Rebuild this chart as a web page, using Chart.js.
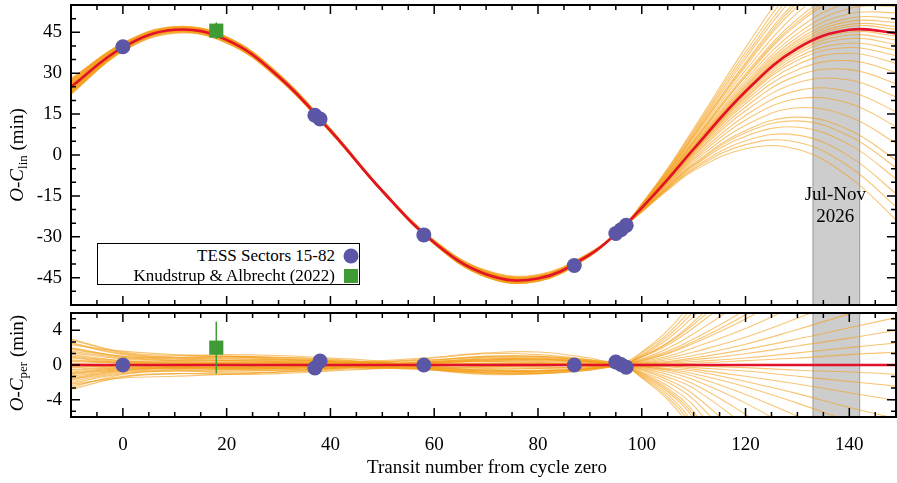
<!DOCTYPE html>
<html>
<head>
<meta charset="utf-8">
<script src="https://cdn.jsdelivr.net/npm/chart.js@4.4.0/dist/chart.umd.min.js"></script>
<style>
body{margin:0;background:#fff;width:897px;height:483px;overflow:hidden;position:relative;font-family:"Liberation Serif","Times New Roman",serif;color:#000}
.panel{position:absolute;left:0;width:897px}
#topBox{top:0;height:310px}
#botBox{top:308px;height:175px}
.ylab{position:absolute;font-size:19px;white-space:nowrap;transform:translate(-50%,-50%) rotate(-90deg)}
.ylab sub{font-size:13px;vertical-align:-4px;line-height:0}
#xlab{position:absolute;left:487px;top:467px;font-size:19px;white-space:nowrap;transform:translate(-50%,-50%)}
#legend{position:absolute;left:97px;top:243px;width:263px;height:42px;border:1px solid #000;box-sizing:border-box;background:#fff;font-size:17px}
#legend .txt{position:absolute;right:24px;white-space:nowrap;transform:translateY(-50%)}
#legend .mk{position:absolute;left:253px;transform:translate(-50%,-50%)}
.circ{width:15px;height:15px;border-radius:50%;background:#5b57a6}
.sq{width:14px;height:14px;background:#3f9b35}
</style>
</head>
<body>
<div class="panel" id="topBox"><canvas id="topChart"></canvas></div>
<div class="panel" id="botBox"><canvas id="botChart"></canvas></div>
<div class="ylab" style="left:17px;top:155px"><i>O</i>-<i>C</i><sub>lin</sub> (min)</div>
<div class="ylab" style="left:17px;top:363px"><i>O</i>-<i>C</i><sub>per</sub> (min)</div>
<div id="xlab">Transit number from cycle zero</div>
<div id="legend">
  <div class="txt" style="top:12px">TESS Sectors 15-82</div><div class="mk circ" style="top:12px"></div>
  <div class="txt" style="top:32px">Knudstrup &amp; Albrecht (2022)</div><div class="mk sq" style="top:32px"></div>
</div>
<script>
// transit number grid for the model curves
const gridN = [-10, 0, 10, 20, 30, 40, 50, 60, 70, 80, 90, 96, 100, 105, 110, 120, 130, 140, 150];
// best-fit model, O-C relative to linear ephemeris (min)
const fitLin = [25.0, 39.5, 45.9, 42.2, 28.8, 8.9, -13.2, -32.1, -43.7, -45.3, -36.5, -27.2, -19.4, -8.9, 2.2, 23.3, 39.1, 45.9, 44.4];
// posterior draws, offset from best fit (min), same grid
const sampleDev = [
  [2.9,1.4,0.9,1.0,0.8,0.5,0.0,-0.6,-1.1,-1.0,-0.5,0.1,1.5,4.0,7.5,16.0,27.0,39.0,51.0],
  [-2.6,-1.1,-0.7,-0.9,-0.8,-0.6,0.3,0.8,1.3,1.2,0.6,-0.1,1.4,3.6,6.8,14.4,24.3,35.1,45.9],
  [1.8,0.9,0.6,0.7,0.6,0.4,0.2,-0.3,-0.5,-0.4,-0.2,0.1,1.2,3.3,6.2,13.1,22.1,32.0,41.8],
  [-1.6,-0.7,-0.4,-0.5,-0.5,-0.4,-0.1,0.3,0.6,0.6,0.3,0.0,1.1,3.0,5.6,12.0,20.3,29.3,38.3],
  [0.8,0.3,0.2,0.3,0.3,0.2,0.1,-0.4,-0.7,-0.7,-0.4,0.0,1.0,2.6,5.0,10.6,17.8,25.7,33.7],
  [-0.9,-0.4,-0.2,-0.2,-0.1,0.0,0.5,0.9,1.4,1.5,0.8,0.1,0.9,2.3,4.3,9.1,15.4,22.2,29.1],
  [2.3,1.6,1.2,1.0,0.7,0.4,0.2,-0.2,-0.2,-0.1,0.0,0.0,0.7,1.9,3.6,7.7,13.0,18.7,24.5],
  [-2.2,-1.5,-1.3,-1.1,-0.8,-0.4,-0.2,0.3,0.4,0.3,0.1,0.0,0.6,1.6,3.0,6.4,10.8,15.6,20.4],
  [1.2,0.5,0.2,0.1,0.0,-0.1,-0.1,0.2,0.5,0.6,0.4,0.1,0.5,1.3,2.5,5.3,8.9,12.9,16.8],
  [-1.1,-0.5,-0.3,-0.3,-0.3,-0.2,-0.3,-0.3,-0.6,-0.7,-0.4,-0.1,0.4,1.0,2.0,4.2,7.0,10.1,13.3],
  [0.4,0.2,0.1,0.2,0.2,0.2,0.2,0.1,0.1,0.1,0.1,0.0,0.3,0.8,1.5,3.2,5.4,7.8,10.2],
  [-0.3,-0.1,0.0,-0.1,-0.1,-0.1,-0.1,0.0,-0.1,-0.1,0.0,0.0,0.2,0.6,1.1,2.4,4.1,5.9,7.7],
  [2.0,1.0,0.8,0.9,0.9,0.7,0.2,-0.5,-0.9,-0.9,-0.5,0.0,0.2,0.4,0.8,1.8,3.0,4.3,5.6],
  [-1.9,-0.9,-0.6,-0.7,-0.6,-0.4,0.3,0.6,1.0,1.0,0.5,0.0,0.1,0.3,0.6,1.3,2.2,3.1,4.1],
  [1.4,0.7,0.5,0.5,0.4,0.3,0.2,0.0,-0.1,-0.1,0.0,0.0,0.1,0.2,0.4,0.8,1.4,2.0,2.6],
  [-1.3,-0.6,-0.3,-0.3,-0.2,-0.1,-0.1,0.0,0.1,0.2,0.1,0.0,0.0,0.1,0.2,0.5,0.8,1.2,1.5],
  [0.6,0.2,0.0,-0.1,-0.1,-0.1,0.1,0.3,0.6,0.7,0.4,0.1,0.9,2.5,4.7,9.9,16.7,24.2,31.6],
  [-0.6,-0.3,-0.3,-0.4,-0.4,-0.3,-0.3,0.2,0.4,0.4,0.2,0.0,0.5,1.4,2.7,5.8,9.7,14.0,18.4],
  [3.0,1.5,1.1,1.2,1.1,0.8,0.4,-0.5,-0.9,-0.8,-0.4,0.0,-1.5,-4.0,-8.0,-21.0,-37.0,-54.0,-70.0],
  [-2.8,-1.4,-1.0,-1.1,-1.0,-0.7,-0.3,0.5,0.9,0.9,0.5,0.1,-1.4,-3.7,-7.4,-19.5,-34.4,-50.2,-65.1],
  [1.6,0.8,0.5,0.5,0.4,0.3,-0.3,-0.6,-1.0,-1.0,-0.6,-0.1,-1.3,-3.4,-6.9,-18.1,-31.8,-46.4,-60.2],
  [-1.7,-0.8,-0.5,-0.5,-0.4,-0.3,0.1,0.4,0.7,0.7,0.4,0.0,-1.2,-3.1,-6.2,-16.4,-28.9,-42.1,-54.6],
  [1.0,0.5,0.4,0.5,0.5,0.4,0.2,-0.2,-0.4,-0.4,-0.2,0.0,-1.0,-2.7,-5.4,-14.3,-25.2,-36.7,-47.6],
  [-0.8,-0.3,-0.1,0.0,0.1,0.1,0.4,0.6,1.0,1.0,0.6,0.1,-0.9,-2.4,-4.7,-12.4,-21.8,-31.9,-41.3],
  [2.5,1.2,0.8,0.8,0.7,0.5,0.3,-0.3,-0.6,-0.6,-0.3,0.0,-0.8,-2.0,-4.0,-10.5,-18.5,-27.0,-35.0],
  [-2.4,-1.3,-1.0,-1.0,-0.8,-0.5,-0.4,0.1,0.2,0.2,0.1,0.0,-0.6,-1.7,-3.4,-8.8,-15.5,-22.7,-29.4],
  [0.2,0.0,-0.1,-0.1,-0.1,0.0,-0.3,-0.5,-0.9,-1.0,-0.6,-0.1,-0.5,-1.4,-2.7,-7.1,-12.6,-18.4,-23.8],
  [-0.2,-0.1,0.1,0.2,0.2,0.2,0.1,-0.2,-0.3,-0.3,-0.2,0.0,-0.4,-1.1,-2.2,-5.7,-10.0,-14.6,-18.9],
  [1.9,1.0,0.7,0.7,0.6,0.4,-0.2,-0.4,-0.7,-0.7,-0.4,0.0,-0.3,-0.8,-1.7,-4.4,-7.8,-11.3,-14.7],
  [-1.5,-0.6,-0.3,-0.3,-0.3,-0.2,0.1,0.3,0.5,0.5,0.3,0.0,-0.2,-0.6,-1.3,-3.4,-5.9,-8.6,-11.2],
  [0.9,0.4,0.3,0.3,0.3,0.2,0.2,0.1,0.2,0.2,0.1,0.0,-0.2,-0.5,-1.0,-2.5,-4.4,-6.5,-8.4],
  [-1.0,-0.5,-0.4,-0.4,-0.4,-0.3,-0.3,-0.1,-0.1,0.0,0.0,0.0,-0.1,-0.4,-0.7,-1.9,-3.3,-4.9,-6.3],
  [2.6,1.3,0.9,1.0,0.9,0.6,0.2,-0.5,-0.8,-0.8,-0.4,0.1,-0.1,-0.2,-0.5,-1.3,-2.2,-3.2,-4.2],
  [-2.1,-1.0,-0.7,-0.7,-0.6,-0.4,0.1,0.4,0.8,0.8,0.4,0.0,-0.1,-0.1,-0.3,-0.7,-1.3,-1.9,-2.5],
  [0.5,0.3,0.2,0.2,0.2,0.1,0.3,0.4,0.7,0.7,0.4,0.0,0.0,-0.1,-0.1,-0.3,-0.6,-0.8,-1.1],
  [-0.5,-0.2,-0.2,-0.3,-0.3,-0.2,-0.4,-0.4,-0.7,-0.7,-0.4,0.0,-1.1,-2.9,-5.8,-15.1,-26.6,-38.9,-50.4]
];
// the period model is flat at zero
const perLineN = [-10, 150];
const perLineV = [0, 0];

// TESS transits
const tessN = [0, 37, 38, 58, 87, 95, 96, 97];
const tessLin = [39.7, 14.6, 13.2, -29.3, -40.5, -28.8, -27.4, -25.8];
const tessPer = [0.0, -0.35, 0.45, 0.0, 0.0, 0.35, 0.05, -0.25];
// Knudstrup & Albrecht (2022)
const kaN = [18];
const kaLin = [45.6];
const kaPer = [2.0];
const kaErr = [3.0];

const xTicks = [0, 20, 40, 60, 80, 100, 120, 140];
const linTicks = [-45, -30, -15, 0, 15, 30, 45];
const perTicks = [-4, 0, 4];
const window2026 = [133, 142];
const windowLabel = ['Jul-Nov', '2026'];

const ORANGE = 'rgba(244,158,25,0.6)';
const RED = '#e3122b';
const BLUE = '#5b57a6';
const GREEN = '#3f9b35';
const FONT = '"Liberation Serif", "Times New Roman", serif';
const TICKFONT = {family: FONT, size: 19};

Chart.defaults.font.family = FONT;
Chart.defaults.font.size = 19;
Chart.defaults.color = '#000';

// grey window, inward ticks and frame
const decor = {
  id: 'decor',
  beforeDatasetsDraw(chart) {
    const {ctx, chartArea: a, scales: {x}} = chart;
    const x0 = x.getPixelForValue(window2026[0]), x1 = x.getPixelForValue(window2026[1]);
    ctx.save();
    ctx.fillStyle = '#cdcdcd';
    ctx.fillRect(x0, a.top, x1 - x0, a.bottom - a.top);
    ctx.strokeStyle = '#999';
    ctx.lineWidth = 1;
    ctx.beginPath();
    ctx.moveTo(x0, a.top); ctx.lineTo(x0, a.bottom);
    ctx.moveTo(x1, a.top); ctx.lineTo(x1, a.bottom);
    ctx.stroke();
    ctx.restore();
  },
  afterDatasetsDraw(chart, args, o) {
    const {ctx, chartArea: a, scales: {x, y}} = chart;
    ctx.save();
    if (o.labelY) {
      ctx.fillStyle = '#000';
      ctx.font = '19px ' + FONT;
      ctx.textAlign = 'center';
      ctx.textBaseline = 'middle';
      const cx = x.getPixelForValue((window2026[0] + window2026[1]) / 2) - 1;
      ctx.fillText(windowLabel[0], cx, o.labelY);
      ctx.fillText(windowLabel[1], cx, o.labelY + 22);
    }
    ctx.strokeStyle = '#000';
    ctx.lineWidth = 1.5;
    ctx.beginPath();
    for (let k = -2; k <= 30; k++) {
      const v = k * 5;
      if (v <= x.min || v >= x.max) continue;
      const p = x.getPixelForValue(v);
      const len = v % 20 === 0 ? 9 : 5;
      ctx.moveTo(p, a.top); ctx.lineTo(p, a.top + len);
      ctx.moveTo(p, a.bottom); ctx.lineTo(p, a.bottom - len);
    }
    for (let k = -30; k <= 30; k++) {
      const v = k * o.yStep;
      if (v <= y.min + 1e-6 || v >= y.max - 1e-6) continue;
      const p = y.getPixelForValue(v);
      const len = k % 3 === 0 ? 9 : 5;
      ctx.moveTo(a.left, p); ctx.lineTo(a.left + len, p);
      ctx.moveTo(a.right, p); ctx.lineTo(a.right - len, p);
    }
    ctx.stroke();
    ctx.lineWidth = 2;
    ctx.strokeRect(a.left, a.top, a.right - a.left, a.bottom - a.top);
    ctx.restore();
  }
};

function pts(xs, ys) { return xs.map((v, i) => ({x: v, y: ys[i]})); }

function noPad(s) { s.paddingTop = 0; s.paddingBottom = 0; s.paddingLeft = 0; s.paddingRight = 0; }

function buildDatasets(fit, tessY, kaY, isLin) {
  const ds = [];
  sampleDev.forEach(dev => {
    ds.push({
      data: gridN.map((n, i) => ({x: n, y: (isLin ? fit[i] : 0) + dev[i]})),
      showLine: true, borderColor: ORANGE, borderWidth: 1.1, pointRadius: 0, tension: 0.4, order: 4
    });
  });
  ds.push({
    data: isLin ? pts(gridN, fit) : pts(perLineN, perLineV),
    showLine: true, borderColor: RED, borderWidth: 2.6, pointRadius: 0, tension: 0.4, order: 3
  });
  ds.push({
    data: [{x: kaN[0], y: kaY[0] - kaErr[0]}, {x: kaN[0], y: kaY[0] + kaErr[0]}],
    showLine: true, borderColor: GREEN, borderWidth: 1.5, pointRadius: 0, order: 2
  });
  ds.push({
    data: pts(kaN, kaY), pointStyle: 'rect', pointRadius: 10,
    pointBackgroundColor: GREEN, pointBorderWidth: 0, order: 1
  });
  ds.push({
    data: pts(tessN, tessY), pointStyle: 'circle', pointRadius: 7.5,
    pointBackgroundColor: BLUE, pointBorderWidth: 0, order: 0
  });
  return ds;
}

function makeChart(id, opts) {
  return new Chart(document.getElementById(id), {
    type: 'scatter',
    data: {datasets: opts.datasets},
    plugins: [decor],
    options: {
      responsive: true,
      maintainAspectRatio: false,
      animation: false,
      devicePixelRatio: 1,
      events: [],
      layout: {padding: opts.padding, autoPadding: false},
      elements: {line: {capBezierPoints: false}},
      plugins: {legend: {display: false}, tooltip: {enabled: false}, decor: opts.decor},
      scales: {
        x: {
          type: 'linear', min: -10, max: 149, display: opts.showX,
          grid: {display: false, drawTicks: false}, border: {display: false},
          afterBuildTicks: s => { s.ticks = xTicks.map(v => ({value: v})); },
          ticks: {padding: 17, maxRotation: 0, font: TICKFONT, color: '#000'},
          afterFit: s => { s.height = opts.showX ? 66 : 0; noPad(s); }
        },
        y: {
          type: 'linear', min: opts.yMin, max: opts.yMax,
          grid: {display: false, drawTicks: false}, border: {display: false},
          afterBuildTicks: s => { s.ticks = opts.yTicks.map(v => ({value: v})); },
          ticks: {padding: 9, font: TICKFONT, color: '#000'},
          afterFit: s => { s.width = 71; noPad(s); }
        }
      }
    }
  });
}

makeChart('topChart', {
  datasets: buildDatasets(fitLin, tessLin, kaLin, true),
  padding: {top: 5, right: 1, bottom: 5, left: 0},
  showX: false,
  yMin: -55, yMax: 55, yTicks: linTicks,
  decor: {yStep: 5, labelY: 195}
});

makeChart('botChart', {
  datasets: buildDatasets(fitLin, tessPer, kaPer, false),
  padding: {top: 5, right: 1, bottom: 0, left: 0},
  showX: true,
  yMin: -6, yMax: 6, yTicks: perTicks,
  decor: {yStep: 4 / 3, labelY: 0}
});
</script>
</body>
</html>
